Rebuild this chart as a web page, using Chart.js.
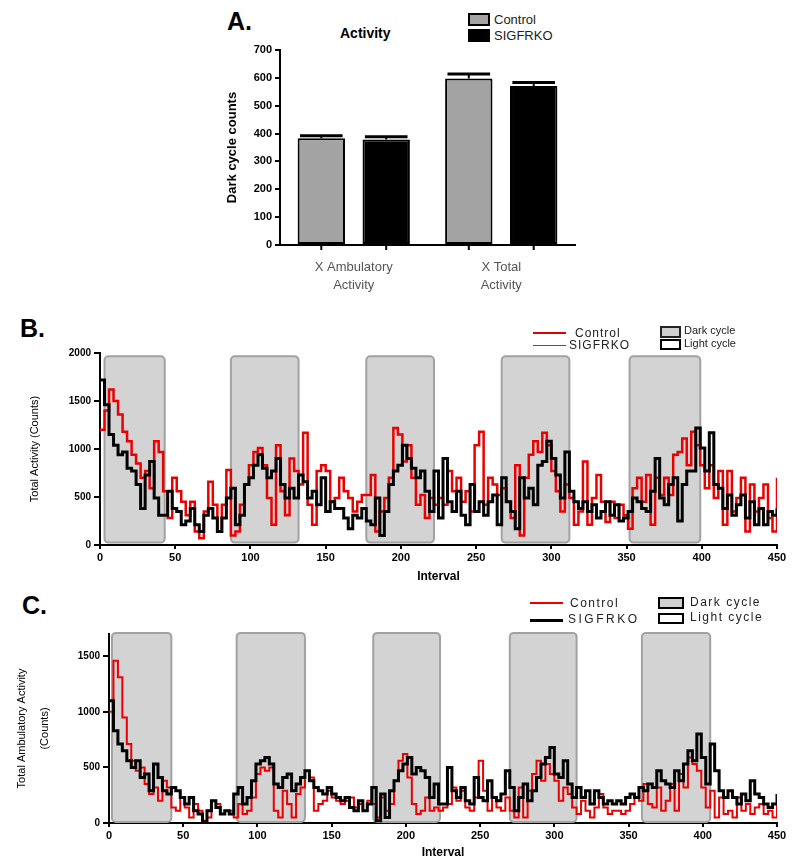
<!DOCTYPE html>
<html>
<head>
<meta charset="utf-8">
<title>Activity</title>
<script src="https://cdn.jsdelivr.net/npm/chart.js@4.4.1/dist/chart.umd.min.js"></script>
<style>
  body { margin: 0; background: #fff; }
  #page { position: relative; width: 800px; height: 865px; overflow: hidden;
          font-family: 'Liberation Sans', Arial, sans-serif; color: #000; }
  canvas { position: absolute; }
  .letter { position: absolute; font-weight: bold; font-size: 25px; line-height: 25px; }
  .txt { position: absolute; white-space: nowrap; line-height: 12px; height: 12px; }
  .sw { position: absolute; box-sizing: border-box; }
</style>
</head>
<body>
<div id="page">
  <!-- panel A -->
  <div class="letter" style="left:227px;top:9px;">A.</div>
  <div class="txt" style="left:340px;top:26px;font-size:14px;font-weight:bold;line-height:14px;">Activity</div>
  <div class="sw" style="left:468px;top:13px;width:22px;height:13px;background:#a3a3a3;border:2px solid #000;"></div>
  <div class="txt" style="left:494px;top:14px;font-size:13px;color:#222;">Control</div>
  <div class="sw" style="left:468px;top:29px;width:22px;height:13px;background:#000;"></div>
  <div class="txt" style="left:494px;top:30px;font-size:13px;color:#222;">SIGFRKO</div>
  <canvas id="chart-a" width="400" height="300" style="left:200px;top:0;"></canvas>

  <!-- panel B -->
  <div class="letter" style="left:20px;top:316px;">B.</div>
  <canvas id="chart-b" width="800" height="270" style="left:0;top:320px;"></canvas>
  <div class="sw" style="left:533px;top:332px;width:33px;height:2px;background:rgb(225,0,0);"></div>
  <div class="txt" style="left:575px;top:327px;font-size:12px;letter-spacing:1px;color:#222;">Control</div>
  <div class="sw" style="left:533px;top:345px;width:33px;height:1px;background:#555;"></div>
  <div class="txt" style="left:569px;top:339px;font-size:12px;letter-spacing:1px;color:#222;">SIGFRKO</div>
  <div class="sw" style="left:660px;top:326px;width:21px;height:12px;background:#d0d0d0;border:2px solid #222;"></div>
  <div class="txt" style="left:684px;top:324px;font-size:11px;color:#222;">Dark cycle</div>
  <div class="sw" style="left:660px;top:339px;width:21px;height:11px;background:#fff;border:2px solid #000;"></div>
  <div class="txt" style="left:684px;top:337px;font-size:11px;color:#222;">Light cycle</div>

  <!-- panel C -->
  <div class="letter" style="left:22px;top:593px;">C.</div>
  <canvas id="chart-c" width="800" height="270" style="left:0;top:595px;"></canvas>
  <div class="sw" style="left:530px;top:602px;width:33px;height:1.5px;background:rgb(235,0,0);"></div>
  <div class="txt" style="left:570px;top:597px;font-size:12px;letter-spacing:1.5px;color:#222;">Control</div>
  <div class="sw" style="left:530px;top:619px;width:33px;height:2.5px;background:#000;"></div>
  <div class="txt" style="left:568px;top:613px;font-size:12px;letter-spacing:2.5px;color:#222;">SIGFRKO</div>
  <div class="sw" style="left:658px;top:597px;width:26px;height:12px;background:#d0d0d0;border:2px solid #000;"></div>
  <div class="txt" style="left:690px;top:596px;font-size:12px;letter-spacing:1.5px;color:#222;">Dark cycle</div>
  <div class="sw" style="left:658px;top:613px;width:26px;height:11px;background:#fff;border:2px solid #000;"></div>
  <div class="txt" style="left:690px;top:611px;font-size:12px;letter-spacing:1.5px;color:#222;">Light cycle</div>
</div>

<script>
'use strict';

// ── Panel A data ──────────────────────────────────────────────────────────
const activityLabels = [['X Ambulatory', 'Activity'], ['X Total', 'Activity']];
const ctrlMean = [383, 598];
const ctrlSem = [9, 16];
const koMean = [379, 571];
const koSem = [10, 12];
const countTicksA = [0, 100, 200, 300, 400, 500, 600, 700];

// ── Panels B / C data (one value every 3 intervals, 0..450) ────────────────
const INTERVAL_STEP = 3;

const totalCtrl = [
  1200, 1400, 1620, 1500, 1360, 1180, 1080, 940, 850, 700, 770, 590, 1080, 970, 560, 280,
  700, 560, 450, 310, 450, 140, 70, 350, 660, 420, 140, 420, 780, 100, 140, 420,
  630, 830, 970, 1010, 830, 490, 210, 1040, 560, 310, 900, 770, 630, 1170, 420, 210,
  770, 830, 770, 450, 490, 700, 560, 490, 350, 450, 520, 520, 730, 140, 350, 490,
  700, 1220, 1150, 870, 1040, 700, 420, 520, 280, 490, 420,
  490, 420, 770, 560, 700, 450, 560, 350, 1040, 1180, 420, 700, 630, 520, 590, 450,
  280, 830, 100, 700, 940, 1080, 970, 1170, 1040, 770, 560, 350, 630, 490, 210, 350,
  870, 210, 490, 730, 450, 240, 450, 280, 420, 310, 170, 590, 700, 450, 730, 210,
  700, 520, 700, 520, 940, 970, 1110, 830, 1180, 1040, 830, 590, 830, 490, 770, 210,
  770, 350, 490, 700, 140, 630, 350, 490, 630, 280, 140, 700
];
const totalKo = [
  1720, 1460, 1150, 1040, 940, 970, 800, 770, 630, 380, 730, 870, 490, 310, 310, 560,
  380, 350, 210, 250, 380, 210, 140, 310, 380, 280, 140, 280, 490, 590, 210, 310,
  630, 700, 830, 940, 800, 700, 770, 900, 630, 490, 590, 490, 730, 660, 490, 560,
  420, 700, 350, 450, 380, 380, 280, 170, 310, 280, 380, 250, 210, 490, 100, 350,
  630, 770, 830, 1040, 900, 800, 700, 770, 560, 350, 770,
  280, 900, 450, 350, 560, 310, 210, 630, 350, 450, 310, 450, 520, 210, 700, 450,
  350, 170, 700, 490, 590, 420, 830, 870, 1080, 900, 730, 490, 970, 560, 450, 380,
  450, 350, 420, 280, 350, 450, 310, 420, 250, 280, 350, 490, 450, 380, 350, 560,
  900, 490, 420, 630, 700, 250, 630, 770, 770, 1220, 1010, 770, 1170, 630, 590, 380,
  520, 310, 420, 520, 280, 450, 210, 380, 210, 350, 310, 380
];
const darkStartB = [3, 87, 177, 267, 352];
const darkEndB = [43, 132, 222, 312, 399];

const ambCtrl = [
  1000, 1460, 1310, 950, 710, 560, 470, 500, 350, 260, 320, 200, 380, 320, 140, 110,
  230, 140, 50, 170, 110, 20, 50, 200, 170, 80, 110, 110, 50, 170, 80, 110,
  230, 440, 500, 470, 500, 110, 50, 290, 170, 50, 260, 320, 470, 410, 110, 170,
  200, 290, 230, 200, 170, 200, 230, 140, 170, 110, 200, 170, 50, 230, 110, 170,
  380, 560, 620, 410, 170, 80, 110, 230, 110, 140, 110,
  140, 170, 320, 200, 290, 140, 110, 230, 560, 290, 110, 230, 140, 110, 230, 110,
  50, 320, 50, 290, 440, 560, 380, 530, 440, 380, 200, 320, 260, 140, 80, 200,
  110, 50, 140, 260, 140, 80, 110, 110, 80, 110, 170, 230, 200, 350, 170, 140,
  320, 110, 200, 350, 110, 440, 320, 590, 530, 470, 320, 140, 290, 50, 230, 80,
  110, 50, 230, 110, 170, 80, 140, 170, 80, 110, 50, 260
];
const ambKo = [
  1100, 830, 710, 650, 560, 500, 560, 410, 440, 290, 530, 410, 290, 260, 320, 290,
  230, 170, 230, 110, 80, 10, 110, 200, 140, 80, 110, 80, 260, 320, 170, 230,
  380, 530, 560, 590, 530, 350, 320, 410, 440, 290, 350, 410, 470, 380, 320, 290,
  260, 320, 260, 230, 200, 230, 140, 110, 200, 110, 170, 320, 20, 260, 50, 290,
  380, 470, 530, 590, 440, 500, 470, 410, 230, 350, 170,
  170, 500, 290, 230, 320, 200, 170, 410, 230, 200, 380, 230, 200, 260, 470, 320,
  110, 230, 350, 200, 290, 410, 530, 590, 680, 440, 410, 560, 350, 230, 320, 230,
  290, 170, 290, 230, 170, 200, 170, 200, 170, 230, 260, 230, 320, 290, 350, 320,
  470, 380, 350, 320, 470, 380, 530, 650, 560, 800, 590, 350, 710, 470, 290, 230,
  290, 230, 170, 260, 200, 380, 260, 230, 170, 140, 170, 260
];
const darkStartC = [2, 86, 178, 270, 359];
const darkEndC = [42, 132, 223, 315, 405];

const intervalTicks = [0, 50, 100, 150, 200, 250, 300, 350, 400, 450];

// ── Helpers ───────────────────────────────────────────────────────────────

Chart.defaults.font.family = "'Liberation Sans', Arial, sans-serif";
Chart.defaults.color = '#000';

const toPoints = arr => arr.map((v, i) => ({ x: i * INTERVAL_STEP, y: v }));
const plainNumber = v => String(v);

const darkCyclePlugin = {
  id: 'darkCycles',
  beforeDatasetsDraw(chart, args, opts) {
    if (!opts || !opts.starts) return;
    const { ctx, scales: { x, y } } = chart;
    ctx.save();
    ctx.fillStyle = '#d3d3d3';
    ctx.strokeStyle = '#a2a2a2';
    ctx.lineWidth = 2;
    opts.starts.forEach((s, i) => {
      const x1 = x.getPixelForValue(s);
      const x2 = x.getPixelForValue(opts.ends[i]);
      const y1 = y.getPixelForValue(opts.top);
      const y2 = y.getPixelForValue(opts.bottom);
      ctx.beginPath();
      ctx.roundRect(x1, y1, x2 - x1, y2 - y1, 4);
      ctx.fill();
      ctx.stroke();
    });
    ctx.restore();
  },
};

// error caps and the little tick under every bar (panel A)
const barExtrasPlugin = {
  id: 'barExtras',
  afterDatasetsDraw(chart) {
    const { ctx, scales: { y } } = chart;
    const sems = [ctrlSem, koSem];
    const means = [ctrlMean, koMean];
    ctx.save();
    ctx.strokeStyle = '#000';
    chart.data.datasets.forEach((ds, d) => {
      chart.getDatasetMeta(d).data.forEach((bar, i) => {
        const top = y.getPixelForValue(means[d][i] + sems[d][i]);
        const half = bar.width * 0.45;
        ctx.lineWidth = 2;
        ctx.beginPath();
        ctx.moveTo(bar.x, bar.y);
        ctx.lineTo(bar.x, top);
        ctx.stroke();
        ctx.lineWidth = 3;
        ctx.beginPath();
        ctx.moveTo(bar.x - half, top);
        ctx.lineTo(bar.x + half, top);
        ctx.stroke();
        ctx.lineWidth = 2;
        ctx.beginPath();
        ctx.moveTo(bar.x, bar.base);
        ctx.lineTo(bar.x, bar.base + 6);
        ctx.stroke();
      });
    });
    ctx.restore();
  },
};

const axisGrid = len => ({
  display: true, drawOnChartArea: false, drawTicks: true, tickLength: len, color: '#000', lineWidth: 2,
});
const axisBorder = { display: true, color: '#000', width: 2 };

// ── Panel A ───────────────────────────────────────────────────────────────

new Chart(document.getElementById('chart-a'), {
  type: 'bar',
  data: {
    labels: activityLabels,
    datasets: [
      {
        label: 'Control', data: ctrlMean, backgroundColor: '#a3a3a3', borderColor: '#000',
        borderWidth: 2, borderSkipped: false, categoryPercentage: 0.88, barPercentage: 0.73,
      },
      {
        label: 'SIGFRKO', data: koMean, backgroundColor: '#000', borderColor: '#000',
        borderWidth: 2, borderSkipped: false, categoryPercentage: 0.88, barPercentage: 0.73,
      },
    ],
  },
  options: {
    responsive: false,
    animation: false,
    layout: { padding: { top: 50, right: 25, left: 0, bottom: 0 } },
    plugins: { legend: { display: false }, tooltip: { enabled: false } },
    scales: {
      x: {
        grid: { display: false, drawTicks: false },
        border: axisBorder,
        ticks: { color: '#555', font: { size: 13, lineHeight: 1.4 }, padding: 13 },
        afterFit: s => { s.height = 55; },
      },
      y: {
        min: 0, max: 700,
        afterBuildTicks: s => { s.ticks = countTicksA.map(v => ({ value: v })); },
        ticks: { font: { size: 11, weight: 'bold' }, padding: 3, callback: plainNumber },
        grid: axisGrid(5),
        border: axisBorder,
        title: {
          display: true, text: 'Dark cycle counts', font: { size: 13, weight: 'bold' },
          padding: { top: 25, bottom: 0 },
        },
        afterFit: s => { s.width = 80; },
      },
    },
  },
  plugins: [barExtrasPlugin],
});

// ── Panels B and C ────────────────────────────────────────────────────────

function traceChart(id, cfg) {
  return new Chart(document.getElementById(id), {
    type: 'line',
    data: {
      datasets: [
        {
          label: 'SIGFRKO', data: toPoints(cfg.ko), borderColor: '#000', borderWidth: cfg.koWidth,
          pointRadius: 0, stepped: true, order: 0,
        },
        {
          label: 'Control', data: toPoints(cfg.ctrl), borderColor: 'rgb(235,0,0)', borderWidth: cfg.ctrlWidth,
          pointRadius: 0, stepped: true, order: 1,
        },
      ],
    },
    options: {
      responsive: false,
      animation: false,
      layout: { padding: { top: cfg.padTop, right: 23, left: 0, bottom: 0 } },
      plugins: {
        legend: { display: false },
        tooltip: { enabled: false },
        darkCycles: { starts: cfg.starts, ends: cfg.ends, top: cfg.boxTop, bottom: cfg.boxBottom },
      },
      scales: {
        x: {
          type: 'linear', min: 0, max: 450,
          afterBuildTicks: s => { s.ticks = intervalTicks.map(v => ({ value: v })); },
          ticks: { font: { size: 11, weight: 'bold' }, padding: 2, maxRotation: 0, callback: plainNumber },
          grid: axisGrid(4),
          border: axisBorder,
          title: {
            display: true, text: 'Interval', font: { size: 12, weight: 'bold' },
            padding: { top: 0, bottom: cfg.xTitlePad },
          },
          afterFit: s => { s.height = cfg.xHeight; },
        },
        y: {
          min: 0, max: cfg.yMax,
          afterBuildTicks: s => { s.ticks = cfg.yTicks.map(v => ({ value: v })); },
          ticks: { font: { size: 10, weight: 'bold' }, padding: 3, callback: plainNumber },
          grid: axisGrid(6),
          border: axisBorder,
          title: {
            display: true, text: cfg.yTitle, font: { size: 11, lineHeight: cfg.yTitleLH },
            padding: { top: cfg.yTitlePad, bottom: 0 },
          },
          afterFit: s => { s.width = cfg.yWidth; },
        },
      },
    },
    plugins: [darkCyclePlugin],
  });
}

traceChart('chart-b', {
  ctrl: totalCtrl, ko: totalKo, ctrlWidth: 2.5, koWidth: 3,
  starts: darkStartB, ends: darkEndB, boxTop: 1965, boxBottom: 25,
  yMax: 2000, yTicks: [0, 500, 1000, 1500, 2000],
  yTitle: 'Total Activity (Counts)', yTitleLH: 1.2, yTitlePad: 28,
  padTop: 33, yWidth: 100, xHeight: 45, xTitlePad: 6,
});

traceChart('chart-c', {
  ctrl: ambCtrl, ko: ambKo, ctrlWidth: 2, koWidth: 3,
  starts: darkStartC, ends: darkEndC, boxTop: 1710, boxBottom: 10,
  yMax: 1700, yTicks: [0, 500, 1000, 1500],
  yTitle: ['Total Ambulatory Activity', '(Counts)'], yTitleLH: 2.1, yTitlePad: 10,
  padTop: 39, yWidth: 109, xHeight: 42, xTitlePad: 5,
});
</script>
</body>
</html>
